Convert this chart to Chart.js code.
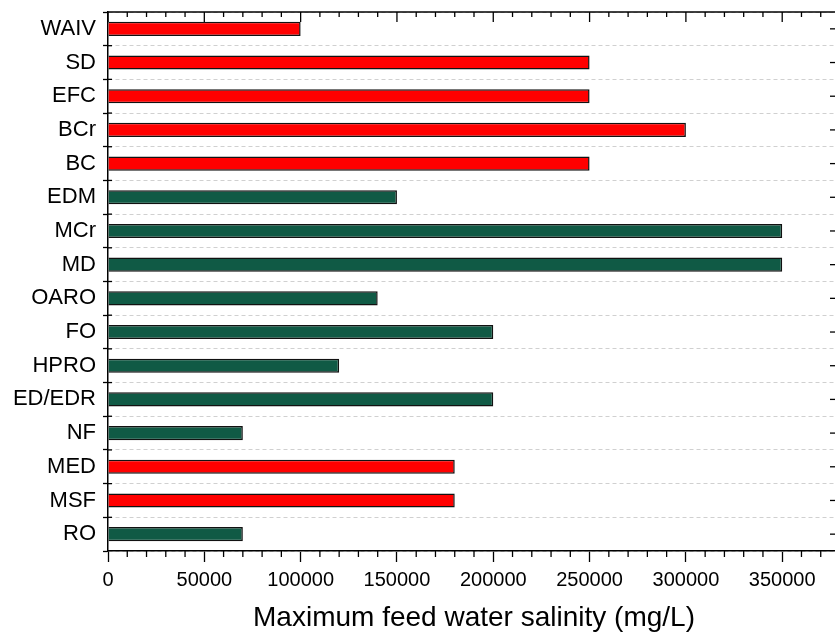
<!DOCTYPE html>
<html>
<head>
<meta charset="utf-8">
<script src="https://cdn.jsdelivr.net/npm/chart.js@4.4.1/dist/chart.umd.min.js"></script>
<style>
  html, body { margin: 0; padding: 0; background: #fff; overflow: hidden; }
  #wrap { width: 850px; height: 632px; }
</style>
</head>
<body>
<div id="wrap"><canvas id="myChart"></canvas></div>
<script>
// datos (de arriba a abajo)
const categorias = ['WAIV', 'SD', 'EFC', 'BCr', 'BC', 'EDM', 'MCr', 'MD', 'OARO', 'FO', 'HPRO', 'ED/EDR', 'NF', 'MED', 'MSF', 'RO'];
const salinidad = [100000, 250000, 250000, 300000, 250000, 150000, 350000, 350000, 140000, 200000, 120000, 200000, 70000, 180000, 180000, 70000];
const grupo = ['t', 't', 't', 't', 't', 'm', 'm', 'm', 'm', 'm', 'm', 'm', 'm', 't', 't', 'm'];
const ticksX = [0, 50000, 100000, 150000, 200000, 250000, 300000, 350000];

const ROJO = '#ff0000';
const VERDE = '#105a45';

// ticks menores, eje superior y ticks de la derecha
const ejesExtra = {
  id: 'ejesExtra',
  afterDraw(chart) {
    const ctx = chart.ctx;
    const x = chart.scales.x;
    const y = chart.scales.y;
    const area = chart.chartArea;
    ctx.save();
    ctx.strokeStyle = '#000';
    ctx.lineWidth = 1.5;
    // linea superior
    ctx.beginPath();
    ctx.moveTo(area.left, area.top);
    ctx.lineTo(area.right, area.top);
    ctx.stroke();
    ctx.lineWidth = 1.3;
    for (let v = 0; v <= x.max; v += 10000) {
      const px = x.getPixelForValue(v);
      const mayor = v % 50000 === 0;
      // abajo hacia fuera
      if (!mayor) {
        ctx.beginPath();
        ctx.moveTo(px, area.bottom);
        ctx.lineTo(px, area.bottom + 6);
        ctx.stroke();
      }
      // arriba hacia dentro
      ctx.beginPath();
      ctx.moveTo(px, area.top);
      ctx.lineTo(px, area.top + (mayor ? 10 : 5));
      ctx.stroke();
    }
    // ticks izquierda: cruzan un poco el eje
    for (let i = 0; i < categorias.length - 1; i++) {
      const py = (y.getPixelForValue(i) + y.getPixelForValue(i + 1)) / 2;
      ctx.beginPath();
      ctx.moveTo(area.left, py);
      ctx.lineTo(area.left + 4, py);
      ctx.stroke();
    }
    // ticks derecha en el centro de cada categoria
    categorias.forEach((c, i) => {
      const py = y.getPixelForValue(i);
      ctx.beginPath();
      ctx.moveTo(area.right, py);
      ctx.lineTo(area.right - 10, py);
      ctx.stroke();
    });
    ctx.restore();
  }
};

const data = {
  labels: categorias,
  datasets: [{
    data: salinidad,
    backgroundColor: grupo.map(g => g === 't' ? ROJO : VERDE),
    borderColor: '#111',
    borderWidth: 1.5,
    categoryPercentage: 1,
    barPercentage: 0.42
  }]
};

const config = {
  type: 'bar',
  data: data,
  options: {
    indexAxis: 'y',
    responsive: true,
    maintainAspectRatio: false,
    animation: false,
    layout: { padding: { left: 0, right: 10, top: 12, bottom: 0 } },
    plugins: { legend: { display: false }, tooltip: { enabled: false } },
    scales: {
      x: {
        type: 'linear',
        min: 0,
        max: 380000,
        afterBuildTicks: s => { s.ticks = ticksX.map(v => ({ value: v })); },
        afterFit: s => { s.height = 81; s.paddingLeft = 0; s.paddingRight = 0; },
        grid: { display: true, drawOnChartArea: false, tickLength: 11, tickColor: '#000', tickWidth: 1.3 },
        border: { display: true, color: '#000', width: 1.5 },
        ticks: {
          color: '#000',
          padding: 6,
          maxRotation: 0,
          autoSkip: false,
          font: { family: 'Liberation Sans, Arial, sans-serif', size: 20 },
          callback: v => String(v)
        },
        title: {
          display: true,
          text: 'Maximum feed water salinity (mg/L)',
          color: '#000',
          padding: { top: 0, bottom: 0 },
          font: { family: 'Liberation Sans, Arial, sans-serif', size: 28, lineHeight: 1 }
        }
      },
      y: {
        type: 'category',
        offset: true,
        afterFit: s => { s.width = 108; s.paddingTop = 0; s.paddingBottom = 0; },
        grid: {
          display: true,
          offset: true,
          color: '#d0d0d0',
          lineWidth: 1,
          tickLength: 5,
          tickColor: '#000',
          tickWidth: 1.3
        },
        border: { display: true, color: '#000', width: 1.5, dash: [4, 3] },
        ticks: {
          color: '#000',
          padding: 7,
          autoSkip: false,
          font: { family: 'Liberation Sans, Arial, sans-serif', size: 22 }
        }
      }
    }
  },
  plugins: [ejesExtra]
};

var myChart = new Chart(document.getElementById('myChart'), config);
</script>
</body>
</html>
